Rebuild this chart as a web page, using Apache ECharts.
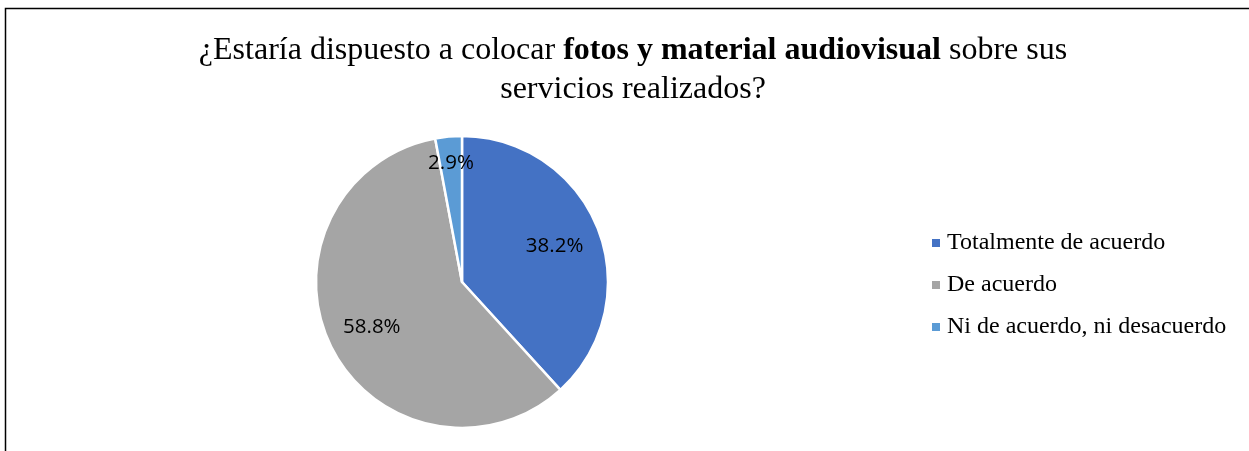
<!DOCTYPE html>
<html>
<head>
<meta charset="utf-8">
<script src="https://cdn.jsdelivr.net/npm/echarts@6/dist/echarts.min.js"></script>
<style>
  html, body { margin: 0; padding: 0; background: #fff; }
  #grafica { width: 1249px; height: 451px; }
</style>
</head>
<body>
<div id="grafica"></div>
<script>
// datos de la encuesta
const categorias = ['Totalmente de acuerdo', 'De acuerdo', 'Ni de acuerdo, ni desacuerdo'];
const valores = [13, 20, 1];
const colores = ['#4472C4', '#A5A5A5', '#5B9BD5'];

// donde cae cada etiqueta (fraccion del radio)
const fraccion_etiqueta = [0.68, 0.69, 0.82];

const centro = [462, 282];
const radio = 146;

let total = valores.reduce((a, b) => a + b, 0);

// angulo medio de cada porcion, medido desde arriba en sentido horario
let acumulado = 0;
const angulos = valores.map((v) => {
    let medio = (acumulado + v / 2) / total * 2 * Math.PI;
    acumulado += v;
    return medio;
});

let grafica = echarts.init(document.querySelector('#grafica'));

let option = {
    animation: false,
    title: {
        left: 628,
        top: 26,
        textAlign: 'center',
        text: '{a|¿Estaría dispuesto a colocar }{b|fotos y material audiovisual}{a| sobre sus}\n{a|servicios realizados?}',
        textStyle: {
            fontWeight: 'normal',
            fontFamily: 'Liberation Serif',
            fontSize: 32,
            rich: {
                a: { fontFamily: 'Liberation Serif', fontSize: 32, color: '#000', fontWeight: 'normal', lineHeight: 39 },
                b: { fontFamily: 'Liberation Serif', fontSize: 32, color: '#000', fontWeight: 'bold', lineHeight: 39 }
            }
        }
    },
    legend: {
        orient: 'vertical',
        left: 925,
        top: 226,
        itemWidth: 10,
        itemHeight: 10,
        itemGap: 18,
        icon: 'rect',
        data: categorias,
        textStyle: { fontFamily: 'Liberation Serif', fontSize: 24, color: '#000', lineHeight: 24, padding: [0, 0, 0, 1] }
    },
    graphic: [{
        type: 'rect',
        shape: { x: 5.5, y: 8.5, width: 1300, height: 500 },
        style: { fill: 'none', stroke: '#000', lineWidth: 1.5 },
        silent: true
    }],
    series: [{
        type: 'pie',
        center: centro,
        radius: radio,
        startAngle: 90,
        clockwise: true,
        itemStyle: { borderColor: '#fff', borderWidth: 2.5 },
        label: {
            show: true,
            position: 'inside',
            formatter: (p) => (p.value / total * 100).toFixed(1) + '%',
            fontFamily: 'Open Sans',
            fontSize: 20.5,
            color: '#000'
        },
        labelLine: { show: false },
        labelLayout: (p) => {
            let i = p.dataIndex;
            let r = radio * fraccion_etiqueta[i];
            return {
                x: centro[0] + r * Math.sin(angulos[i]),
                y: centro[1] - r * Math.cos(angulos[i])
            };
        },
        emphasis: { disabled: true },
        data: categorias.map((c, i) => ({
            name: c,
            value: valores[i],
            itemStyle: { color: colores[i] }
        }))
    }]
};

grafica.setOption(option);
</script>
</body>
</html>
